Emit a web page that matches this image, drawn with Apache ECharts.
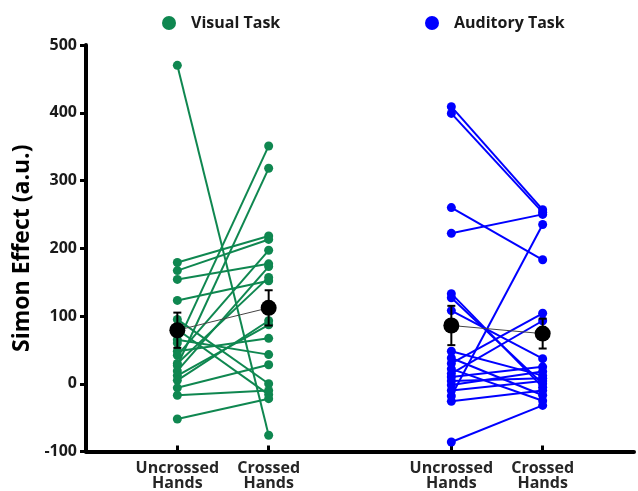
<!DOCTYPE html>
<html>
<head>
<meta charset="utf-8">
<script src="https://cdn.jsdelivr.net/npm/echarts@6/dist/echarts.min.js"></script>
<style>
  html, body { margin: 0; padding: 0; background: #fff; }
  #chart { width: 638px; height: 491px; }
</style>
</head>
<body>
<div id="chart"></div>
<script>
// Condition positions on the x axis and their labels
const conditionPositions = [1, 2, 4, 5];
const conditionLabels = ['Uncrossed\nHands', 'Crossed\nHands', 'Uncrossed\nHands', 'Crossed\nHands'];
const yTicks = [-100, 0, 100, 200, 300, 400, 500];

// Per-participant Simon effect, paired by index (uncrossed -> crossed)
const visualUncrossed = [470, 179, 167, 154, 123, 95, 80, 65, 60, 48, 42, 30, 27, 19, 12, 5, -6, -17, -52];
const visualCrossed   = [-76, 218, 213, 177, 152, 0, -16, 43, 351, 67, 197, 157, 318, 173, 87, 93, 28, -10, -22];

const auditoryUncrossed = [409, 399, 260, 222, 133, 127, 108, 48, 38, 30, 22, 15, 10, 4, -2, -10, -18, -26, -86];
const auditoryCrossed   = [257, 253, 183, 250, -5, 0, 37, 12, -17, 104, -25, 93, 25, 8, 18, 4, 235, -10, -32];

// Group means and standard errors (uncrossed, crossed)
const visualMean = [79, 112];
const visualSem = [26, 26];
const auditoryMean = [86, 74];
const auditorySem = [29, 22];

const GREEN = '#0f8750';
const BLUE = '#0000ff';
const FONT = 'Open Sans';

function participantSeries(name, color, xu, xc, uncrossed, crossed) {
  return uncrossed.map((u, i) => ({
    name: name,
    type: 'line',
    data: [[xu, u], [xc, crossed[i]]],
    symbol: 'circle',
    symbolSize: 9,
    itemStyle: { color: color, opacity: 1 },
    lineStyle: { color: color, width: 2 },
    z: 2,
    silent: true
  }));
}

function errorBarSeries(xs, means, sems) {
  return {
    type: 'custom',
    data: xs.map((x, i) => [x, means[i], sems[i]]),
    renderItem: function (params, api) {
      const x = api.value(0), m = api.value(1), s = api.value(2);
      const top = api.coord([x, m + s]);
      const bot = api.coord([x, m - s]);
      const half = 4;
      const st = { stroke: '#000', lineWidth: 2 };
      return {
        type: 'group',
        children: [
          { type: 'line', shape: { x1: top[0], y1: top[1], x2: bot[0], y2: bot[1] }, style: st },
          { type: 'line', shape: { x1: top[0] - half, y1: top[1], x2: top[0] + half, y2: top[1] }, style: st },
          { type: 'line', shape: { x1: bot[0] - half, y1: bot[1], x2: bot[0] + half, y2: bot[1] }, style: st }
        ]
      };
    },
    z: 5,
    silent: true
  };
}

function meanSeries(xs, means) {
  return [
    {
      type: 'line',
      data: xs.map((x, i) => [x, means[i]]),
      symbol: 'none',
      lineStyle: { color: '#444', width: 1 },
      z: 4,
      silent: true
    },
    {
      type: 'scatter',
      data: xs.map((x, i) => [x, means[i]]),
      symbol: 'circle',
      symbolSize: 16,
      itemStyle: { color: '#000', opacity: 1 },
      z: 6,
      silent: true
    }
  ];
}

const series = [].concat(
  participantSeries('Visual Task', GREEN, 1, 2, visualUncrossed, visualCrossed),
  participantSeries('Auditory Task', BLUE, 4, 5, auditoryUncrossed, auditoryCrossed),
  [errorBarSeries([1, 2], visualMean, visualSem)],
  [errorBarSeries([4, 5], auditoryMean, auditorySem)],
  meanSeries([1, 2], visualMean),
  meanSeries([4, 5], auditoryMean)
);

const legendText = { fontFamily: FONT, fontSize: 16, fontWeight: 'bold', color: '#1a1a1a' };

const option = {
  animation: false,
  backgroundColor: '#fff',
  grid: { left: 86, right: 4, top: 45, bottom: 38, containLabel: false },
  legend: [
    { data: ['Visual Task'], left: 157, top: 10, icon: 'circle', itemWidth: 34, itemHeight: 14, textStyle: legendText, selectedMode: false },
    { data: ['Auditory Task'], left: 420, top: 10, icon: 'circle', itemWidth: 34, itemHeight: 14, textStyle: legendText, selectedMode: false }
  ],
  xAxis: {
    type: 'value',
    min: 0,
    max: 6,
    interval: 1,
    splitLine: { show: false },
    axisLine: { onZero: false, lineStyle: { color: '#000', width: 4 } },
    axisTick: { customValues: conditionPositions, inside: true, length: 6, lineStyle: { color: '#000', width: 3 } },
    axisLabel: {
      customValues: conditionPositions,
      formatter: v => conditionLabels[conditionPositions.indexOf(v)] || '',
      fontFamily: FONT, fontSize: 16, fontWeight: 'bold', color: '#262626',
      lineHeight: 15, margin: 9
    }
  },
  yAxis: {
    type: 'value',
    min: yTicks[0],
    max: yTicks[yTicks.length - 1],
    interval: 100,
    splitLine: { show: false },
    axisLine: { show: true, onZero: false, lineStyle: { color: '#000', width: 4 } },
    axisTick: { show: true, length: 6, lineStyle: { color: '#000', width: 3 } },
    axisLabel: { fontFamily: FONT, fontSize: 16, fontWeight: 'bold', color: '#1a1a1a', margin: 9 },
    name: 'Simon Effect (a.u.)',
    nameLocation: 'middle',
    nameGap: 49,
    nameTextStyle: { fontFamily: FONT, fontSize: 23, fontWeight: 'bold', color: '#000' }
  },
  series: series
};

const chart = echarts.init(document.getElementById('chart'), null, { renderer: 'canvas' });
chart.setOption(option);
</script>
</body>
</html>
